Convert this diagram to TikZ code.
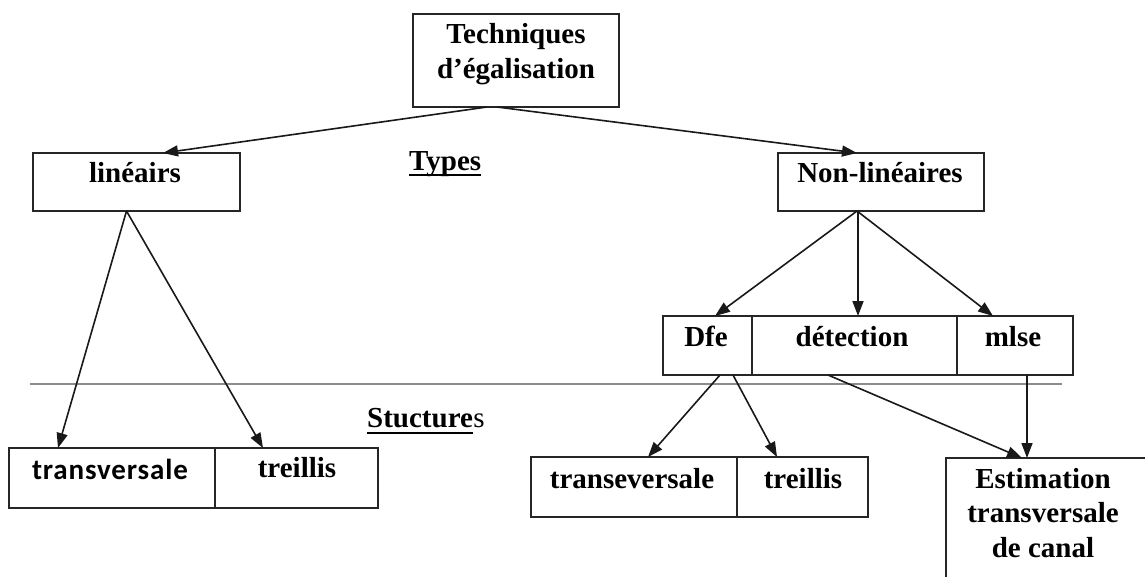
\documentclass[tikz,border=0pt]{standalone}
\usepackage{fontspec}
\setmainfont{Liberation Serif}
\newfontfamily\calfont{Carlito}
\usetikzlibrary{arrows.meta,calc}
\begin{document}
\begin{tikzpicture}[x=1pt,y=-1pt,
  box/.style={draw=black!85,line width=1.6pt,anchor=north west,inner sep=0pt,outer sep=0pt},
  lbl/.style={font=\fontsize{29}{34.5}\selectfont\bfseries,inner sep=0pt,anchor=base,text=black},
  mlbl/.style={font=\fontsize{29}{34.5}\selectfont\bfseries,inner sep=0pt,anchor=north,align=center,text=black},
  arr/.style={draw=black!90,line width=1.6pt,-{Triangle[length=15pt,width=11pt]}},
  ul/.style={line width=2.6pt,draw=black},
  sep/.style={draw=black!45,line width=1.3pt}]
\path[use as bounding box] (0,0) rectangle (1145,576);
\clip (0,0) rectangle (1145,576);

% boxes
\node[box,minimum width=206pt,minimum height=93pt] (top) at (413,14) {};
\node[box,minimum width=207pt,minimum height=58pt] (lin) at (33,153) {};
\node[box,minimum width=206pt,minimum height=58pt] (nonlin) at (778,153) {};
\node[box,minimum width=89pt,minimum height=59pt] (dfe) at (663,316) {};
\node[box,minimum width=205pt,minimum height=59pt] (det) at (752,316) {};
\node[box,minimum width=116pt,minimum height=59pt] (mlse) at (957,316) {};
\node[box,minimum width=206pt,minimum height=60pt] (ltrans) at (9,448) {};
\node[box,minimum width=163pt,minimum height=60pt] (ltreil) at (215,448) {};
\node[box,minimum width=206pt,minimum height=60pt] (mtrans) at (531,457) {};
\node[box,minimum width=131pt,minimum height=60pt] (mtreil) at (737,457) {};
\node[box,minimum width=210pt,minimum height=140pt] (est) at (946,458) {};

% box texts
\node[mlbl] (ttop) at (516,23.5) {Techniques\\d’égalisation};
\node[lbl] (tlin) at (135,182) {linéairs};
\node[lbl] (tnonlin) at (880,182) {Non-linéaires};
\node[lbl] (tdfe) at (706,346) {Dfe};
\node[lbl] (tdet) at (852,346) {détection};
\node[lbl] (tmlse) at (1013,346) {mlse};
\node[lbl,font=\fontsize{29}{34.5}\selectfont\calfont\bfseries] (tltrans) at (110,479) {\addfontfeature{LetterSpace=3}transversale};
\node[lbl] (tltreil) at (297,477) {treillis};
\node[lbl] (tmtrans) at (632,488) {transeversale};
\node[lbl] (tmtreil) at (803,488) {treillis};
\node[mlbl] (test) at (1043,468) {Estimation\\transversale\\de canal};

% section headings
\node[lbl,anchor=base west] (types) at (409,170) {Types};
\draw[ul] ([yshift=-5pt]types.base west) -- ([yshift=-5pt]types.base east);
\node[lbl,anchor=base west] (struct) at (367,427) {Stucture};
\node[lbl,anchor=base west,font=\fontsize{29}{34.5}\selectfont] (structs) at (struct.base east) {s};
\draw[ul] ([yshift=-6pt]struct.base west) -- ([yshift=-6pt]struct.base east);

% separator between types and structures
\coordinate (sepL) at (30,384);
\coordinate (sepR) at (1062,384);
\draw[sep] (sepL) -- (sepR);

% connectors
\draw[arr] ([xshift=-29pt]top.south) -- ([xshift=26.5pt]lin.north);
\draw[arr] ([xshift=-19pt]top.south) -- ([xshift=-24pt]nonlin.north);
\draw[arr] ([xshift=-10pt]lin.south) -- ([xshift=-54pt]ltrans.north);
\draw[arr] ([xshift=-10pt]lin.south) -- ([xshift=-33.5pt]ltreil.north);
\draw[arr] ([xshift=-24pt]nonlin.south) -- ([xshift=7.5pt]dfe.north);
\draw[arr] ([xshift=-23pt]nonlin.south) -- ([xshift=3.5pt]det.north);
\draw[arr] ([xshift=-24pt]nonlin.south) -- ([xshift=-22pt]mlse.north);
\draw[arr] ([xshift=12.5pt]dfe.south) -- ([xshift=14pt]mtrans.north);
\draw[arr] ([xshift=25.5pt]dfe.south) -- ([xshift=-25.5pt]mtreil.north);
\draw[arr] ([xshift=-26.5pt]det.south) -- ([xshift=-29pt]est.north);
\draw[arr] ([xshift=12pt]mlse.south) -- ([xshift=-24pt]est.north);
\end{tikzpicture}
\end{document}
